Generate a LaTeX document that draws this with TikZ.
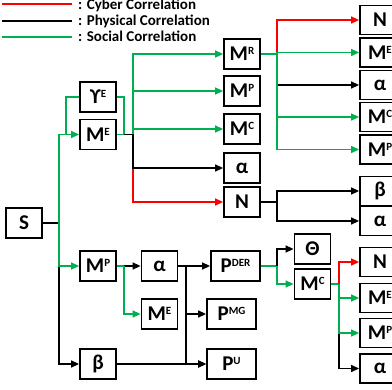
\documentclass[tikz,border=0pt]{standalone}
\usepackage{fontspec}
\setmainfont{Carlito}
\usetikzlibrary{arrows.meta}
\definecolor{socgreen}{RGB}{0,176,80}
\definecolor{cybred}{RGB}{255,0,0}
\newcommand{\supl}[1]{\raisebox{6pt}{\fontsize{11}{11}\selectfont #1}}
\tikzset{
	box/.style={draw, line width=1.8pt, minimum width=36pt, minimum height=30pt, inner sep=0pt, font=\bfseries\fontsize{21}{21}\selectfont},
	rbox/.style={box, minimum height=29pt, minimum width=40pt},
	wbox/.style={box, minimum width=49pt},
	legtext/.style={anchor=base west, black, font=\bfseries\fontsize{15}{15}\selectfont, inner sep=0pt},
	phys/.style={line width=1.4pt, black},
	soc/.style={line width=1.4pt, socgreen},
	cyber/.style={line width=1.4pt, cybred},
	arr/.style={-{Triangle[length=8pt,width=7pt]}}
}
\begin{document}
\begin{tikzpicture}[x=1pt, y=-1pt]
	\useasboundingbox (0,0) rectangle (392,390);
	% legend
	\draw[cyber, line width=2.4pt] (2,4) -- (72,4);
	\draw[phys, line width=2.4pt] (2,21) -- (72,21);
	\draw[soc, line width=2.4pt] (2,37) -- (72,37);
	\node[legtext] (lc) at (78,10) {: Cyber Correlation};
	\node[legtext] (lp) at (78,26) {: Physical Correlation};
	\node[legtext] (ls) at (78,41.5) {: Social Correlation};
	% nodes
	\node[box] (S) at (24,223) {S};
	\node[box] (YE) at (98,97) {ϒ\supl{E}};
	\node[box] (ME) at (98,134.5) {M\supl{E}};
	\node[box] (MR) at (242,54) {M\supl{R}};
	\node[box] (MPa) at (242,91) {M\supl{P}};
	\node[box] (MCa) at (242,129) {M\supl{C}};
	\node[box] (Aa) at (242,168) {α};
	\node[box] (Na) at (242,202) {N};
	\node[rbox] (NR1) at (380,20) {N};
	\node[rbox] (MER1) at (380,52.5) {M\supl{E}};
	\node[rbox] (AR1) at (380,85) {α};
	\node[rbox] (MCR1) at (380,117) {M\supl{C}};
	\node[rbox] (MPR1) at (380,149.5) {M\supl{P}};
	\node[rbox] (BR2) at (380,191) {β};
	\node[rbox] (AR2) at (380,221) {α};
	\node[box] (MPb) at (98,266) {M\supl{P}};
	\node[box] (Ab) at (159.5,266) {α};
	\node[box] (MEb) at (159.5,314) {M\supl{E}};
	\node[box] (Bb) at (98,364) {β};
	\node[wbox] (PDER) at (235.5,266) {P\supl{DER}};
	\node[wbox] (PMG) at (231.5,314) {P\supl{MG}};
	\node[wbox] (PU) at (231.5,364) {P\supl{U}};
	\node[box] (TH) at (312.5,249) {Θ};
	\node[box] (MCb) at (312.5,284) {M\supl{C}};
	\node[rbox] (NR3) at (380,262) {N};
	\node[rbox] (MER3) at (380,298) {M\supl{E}};
	\node[rbox] (MPR3) at (380,333) {M\supl{P}};
	\node[rbox] (AR3) at (380,368.5) {α};
	% junctions
	\coordinate (jS) at (59,223);
	\coordinate (jY1) at (66,134.5);
	\coordinate (jY2) at (124,134.5);
	\coordinate (jME) at (133,134.5);
	\coordinate (jMR) at (277,54);
	\coordinate (jNa) at (277,202);
	\coordinate (jMP) at (124,266);
	\coordinate (jA) at (186,266);
	\coordinate (jP) at (277,266);
	\coordinate (jMC) at (339,284);
	% from S
	\draw[phys, arr] (S.east) -- (jS) |- (Bb.west);
	\draw[soc, arr] (jS) |- (ME.west);
	\draw[soc, arr] (jS) |- (MPb.west);
	\draw[soc] (YE.west) -| (jY1);
	\draw[soc] (YE.east) -| (jY2);
	% from M^E
	\draw[soc] (ME.east) -- (jY2);
	\draw[phys] (jY2) -- (jME);
	\draw[cyber, arr] (jME) |- (Na.west);
	\draw[phys, arr] (jME) |- (Aa.west);
	\draw[soc, arr] (jME) |- (MR.west);
	\draw[soc, arr] (jME) |- (MPa.west);
	\draw[soc, arr] (jME) |- (MCa.west);
	% from M^R
	\draw[soc] (MR.east) -- (jMR);
	\draw[cyber, arr] (jMR) |- (NR1.west);
	\draw[phys, arr] (jMR) |- (AR1.west);
	\draw[soc, arr] (jMR) |- (MER1.west);
	\draw[soc, arr] (jMR) |- (MCR1.west);
	\draw[soc, arr] (jMR) |- (MPR1.west);
	% from N
	\draw[phys, arr] (Na.east) -- (jNa) |- (BR2.west);
	\draw[phys, arr] (jNa) |- (AR2.west);
	% from M^P
	\draw[soc] (MPb.east) -- (jMP);
	\draw[phys, arr] (jMP) -- (Ab.west);
	\draw[soc, arr] (jMP) |- (MEb.west);
	% alpha, beta to P
	\draw[phys, arr] (Ab.east) -- (PDER.west);
	\draw[phys, arr] (jA) |- (PMG.west);
	\draw[phys, arr] (jA) |- (PU.west);
	\draw[phys, arr] (Bb.east) -- (PU.west);
	% from P^DER
	\draw[soc] (PDER.east) -- (jP);
	\draw[phys, arr] (jP) |- (TH.west);
	\draw[soc, arr] (jP) |- (MCb.west);
	% from M^C
	\draw[soc] (MCb.east) -- (jMC);
	\draw[cyber, arr] (jMC) |- (NR3.west);
	\draw[phys, arr] (jMC) |- (AR3.west);
	\draw[soc, arr] (jMC) |- (MER3.west);
	\draw[soc, arr] (jMC) |- (MPR3.west);
\end{tikzpicture}
\end{document}
